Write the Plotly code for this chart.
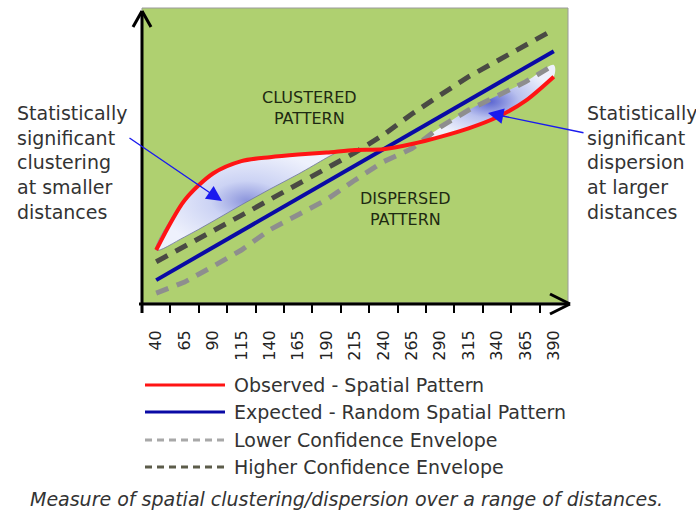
import plotly.graph_objects as go

# Distance bands (x) and the K-function style curves (y)
distances = [40, 65, 90, 115, 140, 165, 190, 215, 240, 265, 290, 315, 340, 365, 390]
tick_labels = ["40", "65", "90", "115", "140", "165", "190", "215", "240", "265",
               "290", "315", "340", "365", "390"]
observed = [86, 162, 203, 222, 228, 232, 235, 239, 240, 248, 259, 272, 289, 314, 351]
expected = [40, 65, 90, 115, 140, 165, 190, 215, 240, 265, 290, 315, 340, 365, 390]
lower_env = [20, 37, 61, 86, 117, 141, 163, 193, 221, 241, 274, 300, 322, 343, 369]
higher_env = [68, 91, 115, 139, 163, 187, 212, 235, 262, 294, 323, 351, 375, 398, 423]

# Shaded zone where observed exceeds the higher envelope (clustering)
cluster_edge_x = [40, 65, 90, 115, 140, 165, 190, 200]
cluster_edge_y = [86, 106, 130, 155, 179, 202, 227, 237]
# Shaded zone where observed falls below the lower envelope (dispersion)
disp_edge_x = [276, 290, 315, 340, 365, 390]
disp_edge_y = [257, 273, 300, 322, 343, 369]

# Plot-area geometry in pixels
W, H = 696, 513
L, R, T, B = 142, 568, 8, 303
XR = [27.5, 402.5]
YR = [5, 456]


def px(x):
    return (x - L) / (R - L)


def py(y):
    return (B - y) / (B - T)


GREEN = "#afd070"
RED = "#ff1414"
BLUE = "#0a0aa5"
DARK = "#4a4a44"
LIGHT = "#8e8e8e"
TEXT = "#333333"
FONT = "DejaVu Sans"

fig = go.Figure()

# Clustering zone polygon: lower edge, then back along the observed curve
obs_at = dict(zip(distances, observed))
cl_back_x = [d for d in reversed(distances) if d <= 190]
poly_x = cluster_edge_x + cl_back_x
poly_y = cluster_edge_y + [obs_at[d] for d in cl_back_x]
fig.add_trace(go.Scatter(
    x=poly_x, y=poly_y, mode="lines", fill="toself",
    line=dict(color="rgba(110,115,160,0.8)", width=1, shape="spline"),
    fillgradient=dict(type="radial",
                      colorscale=[[0, "#8c95dc"], [0.4, "#ccd3f4"], [1, "#eef1fc"]]),
    hoverinfo="skip", showlegend=False))

# Dispersion zone polygon: envelope edge, then back along the observed curve
ds_back_x = [d for d in reversed(distances) if d >= 290]
poly2_x = disp_edge_x + ds_back_x
poly2_y = disp_edge_y + [obs_at[d] for d in ds_back_x]
fig.add_trace(go.Scatter(
    x=poly2_x, y=poly2_y, mode="lines", fill="toself",
    line=dict(color="rgba(0,0,0,0)", width=0, shape="spline"),
    fillgradient=dict(type="radial",
                      colorscale=[[0, "#5a64d0"], [0.45, "#b8c0ee"], [1, "#eef1fc"]]),
    hoverinfo="skip", showlegend=False))

fig.add_trace(go.Scatter(x=distances, y=lower_env, mode="lines",
                         name="Lower Confidence Envelope",
                         line=dict(color=LIGHT, width=5, dash="13px,9px")))
fig.add_trace(go.Scatter(x=distances, y=higher_env, mode="lines",
                         name="Higher Confidence Envelope",
                         line=dict(color=DARK, width=5, dash="13px,9px")))
fig.add_trace(go.Scatter(x=distances, y=expected, mode="lines",
                         name="Expected - Random Spatial Pattern",
                         line=dict(color=BLUE, width=4)))
fig.add_trace(go.Scatter(x=distances, y=observed, mode="lines",
                         name="Observed - Spatial Pattern",
                         line=dict(color=RED, width=4, shape="spline", smoothing=0.8)))

shapes = []
# plot border
shapes.append(dict(type="rect", xref="paper", yref="paper", x0=0, x1=1, y0=0, y1=1,
                   line=dict(color="#9a9a9a", width=1), layer="below"))
# axes with arrow heads
ax_line = dict(color="black", width=3)
shapes.append(dict(type="line", xref="paper", yref="paper",
                   x0=px(142), x1=px(142), y0=py(313), y1=py(11), line=ax_line))
shapes.append(dict(type="line", xref="paper", yref="paper",
                   x0=px(139), x1=px(570), y0=py(304), y1=py(304), line=ax_line))
for (x0, y0) in [(133, 27), (151, 27)]:
    shapes.append(dict(type="line", xref="paper", yref="paper",
                       x0=px(x0), y0=py(y0), x1=px(142), y1=py(11), line=ax_line))
for (x0, y0) in [(550, 294), (550, 314)]:
    shapes.append(dict(type="line", xref="paper", yref="paper",
                       x0=px(x0), y0=py(y0), x1=px(570), y1=py(304), line=ax_line))

# legend drawn below the chart
legend_rows = [
    ("Observed - Spatial Pattern", RED, "solid", 385),
    ("Expected - Random Spatial Pattern", BLUE, "solid", 412),
    ("Lower Confidence Envelope", "#a8a8a8", "7px,5px", 440),
    ("Higher Confidence Envelope", "#5c5c4a", "7px,5px", 467),
]
annotations = []
for label, color, dash, yy in legend_rows:
    shapes.append(dict(type="line", xref="paper", yref="paper",
                       x0=px(145), x1=px(225), y0=py(yy), y1=py(yy),
                       line=dict(color=color, width=3, dash=dash)))
    annotations.append(dict(xref="paper", yref="paper", x=px(232), y=py(yy),
                            xanchor="left", yanchor="middle", showarrow=False,
                            text=label, font=dict(family=FONT, size=19, color=TEXT)))

# zone labels
annotations.append(dict(xref="paper", yref="paper", x=px(260), y=py(86),
                        text="CLUSTERED<br>PATTERN", showarrow=False,
                        font=dict(family=FONT, size=16, color="#1e2a12")))
annotations.append(dict(xref="paper", yref="paper", x=px(453), y=py(231),
                        text="DISPERSED<br>PATTERN", showarrow=False,
                        font=dict(family=FONT, size=16, color="#1e2a12")))

# side callouts
annotations.append(dict(xref="paper", yref="paper", x=px(15), y=py(162),
                        xanchor="left", yanchor="middle", align="left", showarrow=False,
                        text="Statistically<br>significant<br>clustering<br>at smaller<br>distances",
                        font=dict(family=FONT, size=19, color=TEXT)))
annotations.append(dict(xref="paper", yref="paper", x=px(585), y=py(162),
                        xanchor="left", yanchor="middle", align="left", showarrow=False,
                        text="Statistically<br>significant<br>dispersion<br>at larger<br>distances",
                        font=dict(family=FONT, size=19, color=TEXT)))
annotations.append(dict(xref="paper", yref="paper", x=px(222), y=py(201), text="",
                        showarrow=True, ax=128 - 222, ay=137 - 201,
                        arrowcolor="#1a1aee", arrowwidth=1.4, arrowhead=2, arrowsize=2.2))
annotations.append(dict(xref="paper", yref="paper", x=px(488), y=py(113), text="",
                        showarrow=True, ax=585 - 488, ay=133 - 113,
                        arrowcolor="#1a1aee", arrowwidth=1.4, arrowhead=2, arrowsize=2.2))

# caption
annotations.append(dict(xref="paper", yref="paper", x=px(346), y=py(499),
                        xanchor="center", yanchor="middle", showarrow=False,
                        text="<i>Measure of spatial clustering/dispersion over a range of distances.</i>",
                        font=dict(family=FONT, size=19, color=TEXT)))

boundaries = [d + 12.5 for d in distances[:-1]]

fig.update_layout(
    width=W, height=H,
    margin=dict(l=L, r=W - R, t=T, b=H - B, pad=0),
    paper_bgcolor="white", plot_bgcolor=GREEN,
    showlegend=False,
    shapes=shapes, annotations=annotations,
    xaxis=dict(range=XR, tickmode="array", tickvals=distances, ticktext=tick_labels,
               tickangle=-90, ticks="", showgrid=False, zeroline=False, showline=False,
               ticklabelstandoff=23,
               tickfont=dict(family=FONT, size=16, color="#222222"),
               minor=dict(tickmode="array", tickvals=boundaries, ticks="outside",
                          ticklen=9, tickwidth=2, tickcolor="black", showgrid=False)),
    yaxis=dict(range=YR, showticklabels=False, ticks="", showgrid=False,
               zeroline=False, showline=False),
)

fig.write_html("out.html")
